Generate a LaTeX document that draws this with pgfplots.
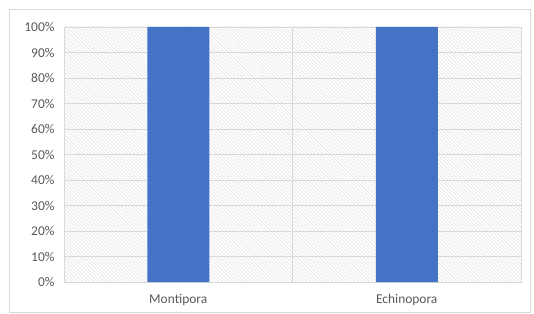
\documentclass[border=0pt]{standalone}
\usepackage{pgfplots}
\pgfplotsset{compat=1.18}
\usepackage{fontspec}
\setmainfont{Carlito}
\usetikzlibrary{patterns.meta}
\definecolor{barblue}{HTML}{4472C4}
\definecolor{gridgray}{HTML}{D9D9D9}
\definecolor{txtgray}{HTML}{595959}
\definecolor{hatch}{HTML}{DEDEDE}
\begin{document}
\begin{tikzpicture}[x=1bp,y=1bp]
\path[use as bounding box] (0,0) rectangle (534,313);
\draw[gridgray, line width=0.75bp] (9.5,1) rectangle (530,303.5);
\begin{axis}[
  at={(64bp,31bp)}, anchor=south west,
  scale only axis, width=457bp, height=255bp,
  xmin=-0.5, xmax=1.5, ymin=0, ymax=100,
  axis background/.style={pattern={Lines[angle=-45,distance=2.6bp,line width=0.5bp]}, pattern color=hatch},
  axis line style={gridgray, line width=0.75bp},
  xtick={0,1}, xticklabels={Montipora, Echinopora},
  minor xtick={0.5}, xminorgrids, minor grid style={gridgray, line width=0.75bp},
  ytick={0,10,...,100}, ymajorgrids, major grid style={gridgray, line width=0.75bp},
  yticklabel={\pgfmathprintnumber{\tick}\%},
  /pgf/number format/assume math mode=true,
  major tick length=0pt, minor tick length=0pt,
  tick label style={font=\fontsize{13.5}{16}\selectfont, text=txtgray},
  yticklabel style={xshift=-6bp},
  xticklabel style={yshift=-9bp},
  clip=false,
]
\addplot[ybar, bar width=62bp, fill=barblue, draw=none] coordinates {(0,100) (1,100)};
\end{axis}
\end{tikzpicture}
\end{document}
